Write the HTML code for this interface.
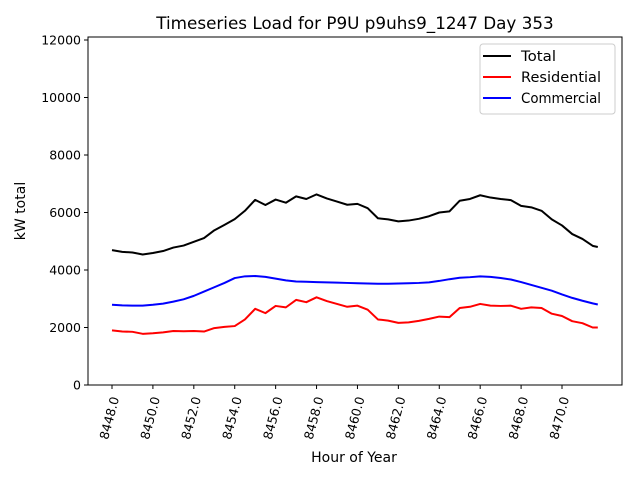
<!DOCTYPE html>
<html><head><meta charset="utf-8"><style>body{margin:0;background:#fff}svg text{font-family:"DejaVu Sans","Liberation Sans",sans-serif}</style></head>
<body>
<svg id="c" width="640" height="480"></svg>
<script>
const hours=[8448,8448.5,8449,8449.5,8450,8450.5,8451,8451.5,8452,8452.5,8453,8453.5,8454,8454.5,8455,8455.5,8456,8456.5,8457,8457.5,8458,8458.5,8459,8459.5,8460,8460.5,8461,8461.5,8462,8462.5,8463,8463.5,8464,8464.5,8465,8465.5,8466,8466.5,8467,8467.5,8468,8468.5,8469,8469.5,8470,8470.5,8471,8471.5,8471.75];
const residential=[1900,1860,1850,1780,1800,1830,1880,1870,1880,1860,1980,2020,2050,2280,2650,2500,2750,2700,2960,2880,3050,2920,2820,2720,2760,2620,2280,2240,2160,2180,2230,2300,2380,2360,2680,2720,2820,2760,2750,2760,2650,2700,2680,2480,2400,2220,2150,2000,2000];
const commercial=[2790,2770,2760,2760,2790,2830,2900,2980,3100,3250,3400,3550,3720,3780,3790,3760,3700,3640,3600,3590,3580,3570,3560,3550,3540,3530,3520,3520,3530,3540,3550,3570,3620,3680,3730,3750,3780,3760,3720,3670,3580,3480,3380,3280,3150,3030,2930,2840,2800];
const total=[4690,4630,4610,4540,4590,4660,4780,4850,4980,5110,5380,5570,5770,6060,6440,6260,6450,6340,6560,6470,6630,6490,6380,6270,6300,6150,5800,5760,5690,5720,5780,5870,6000,6040,6410,6470,6600,6520,6470,6430,6230,6180,6060,5760,5550,5250,5080,4840,4800];
const xTicks=[8448,8450,8452,8454,8456,8458,8460,8462,8464,8466,8468,8470];
const yTicks=[0,2000,4000,6000,8000,10000,12000];
const L=88,R=622,T=37,B=385;
const X=h=>112+(h-8448)*450/22;
const Y=v=>B-v*345/12000;
const s=document.getElementById('c');const NS='http://www.w3.org/2000/svg';
function mk(t,a,txt){const e=document.createElementNS(NS,t);for(const k in a)e.setAttribute(k,a[k]);if(txt!=null)e.textContent=txt;s.appendChild(e);return e;}
let e;
e=mk('rect',{x:L,y:T,width:R-L,height:B-T,fill:'none',stroke:'#000','stroke-width':1});


xTicks.forEach(t=>{
 e=mk('line',{x1:X(t),x2:X(t),y1:B,y2:B+4,stroke:'#000'});
 
 
 const x=X(t),y=B+8;
 e=mk('text',{x:x,y:y,'font-size':12.5,'text-anchor':'end',transform:`rotate(-75 ${x+4} ${y})`,dy:'0.35em',dx:'0'},t.toFixed(1));
 
 
});
yTicks.forEach(t=>{
 e=mk('line',{x1:L-4,x2:L,y1:Y(t),y2:Y(t),stroke:'#000'});
 
 
 e=mk('text',{x:L-7,y:Y(t)+4.5,'font-size':12.5,'text-anchor':'end'},String(t));
 
 
});
[[total,'#000','total-line'],[residential,'#f00','residential-line'],[commercial,'#00f','commercial-line']].forEach(([d,c,n])=>{
 e=mk('polyline',{points:d.map((v,i)=>X(hours[i])+','+Y(v)).join(' '),fill:'none',stroke:c,'stroke-width':2,'stroke-linejoin':'round'});
 
 
});
e=mk('text',{x:355,y:29,'font-size':16.8,'text-anchor':'middle'},'Timeseries Load for P9U p9uhs9_1247  Day 353');


e=mk('text',{x:354,y:462,'font-size':14,'text-anchor':'middle'},'Hour of Year');


e=mk('text',{x:25,y:211,'font-size':14,'text-anchor':'middle',transform:'rotate(-90 25 211)'},'kW total');


e=mk('rect',{x:480,y:44,width:135,height:70,rx:3,fill:'#fff',stroke:'#ccc'});


[['Total','#000'],['Residential','#f00'],['Commercial','#00f']].forEach(([n,c],i)=>{
 const y=56+i*21;
 e=mk('line',{x1:483,x2:511,y1:y,y2:y,stroke:c,'stroke-width':2});
 
 
 e=mk('text',{x:521,y:y+5,'font-size':14,textLength:n.length>5?80:35,lengthAdjust:'spacingAndGlyphs'},n);
 
 
});
</script>
</body></html>
